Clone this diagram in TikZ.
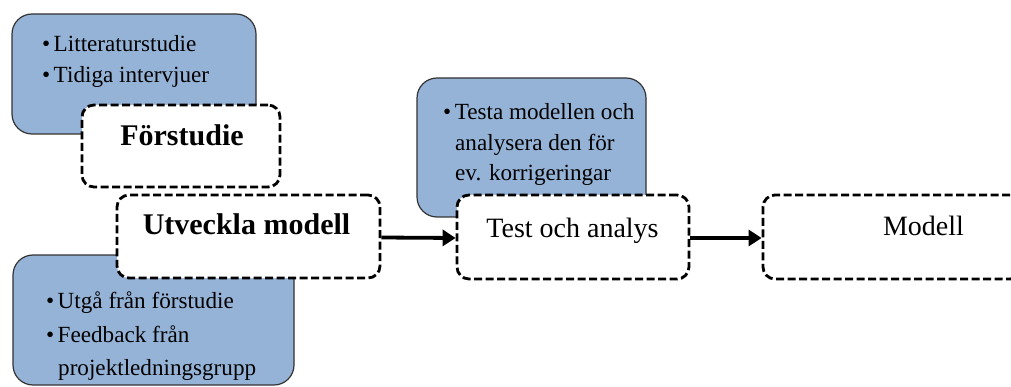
\documentclass[tikz,border=0pt]{standalone}
\usepackage{fontspec}
\usepackage{graphicx}
\setmainfont{Liberation Serif}
\newfontfamily\notefont{Liberation Serif}
\usetikzlibrary{arrows.meta}
\definecolor{notefill}{RGB}{149,179,215}
\newcommand\blt{\makebox[13pt][l]{\textbullet}}
\newcommand\nt[1]{\scalebox{0.89}{#1}}
\begin{document}
\begin{tikzpicture}[x=1pt,y=-1pt,
 note/.style={draw=black!80, line width=1.2pt, fill=notefill, rounded corners=20pt, inner sep=0pt},
 stage/.style={draw=black, line width=2.8pt, dash pattern=on 8pt off 3.5pt, fill=white, rounded corners=12pt, inner sep=0pt},
 btxt/.style={font=\notefont\fontsize{26}{30}\selectfont, anchor=base west, inner sep=0pt},
 ttl/.style={font=\notefont\fontsize{30}{34}\selectfont\bfseries, anchor=base, inner sep=0pt},
 ttr/.style={font=\notefont\fontsize{28}{32}\selectfont, anchor=base, inner sep=0pt},
 flow/.style={line width=3.8pt, -{Triangle[length=13pt,width=16pt]}}]
\useasboundingbox (0,0) rectangle (1011,387);
\clip (0,0) rectangle (1011,387);
% notes
\node[note, minimum width=244pt, minimum height=120pt] (noteA) at (134,74) {};
\node[note, minimum width=281pt, minimum height=130pt] (noteB) at (153.5,320) {};
\node[note, minimum width=229pt, minimum height=139pt] (noteC) at (531.5,147.5) {};
% note texts
\node[btxt] (a1) at (42,52) {\nt{\blt Litteraturstudie}};
\node[btxt] (a2) at (42,83) {\nt{\blt Tidiga intervjuer}};
\node[btxt] (b1) at (46,308) {\nt{\blt Utgå från förstudie}};
\node[btxt] (b2) at (46,342) {\nt{\blt Feedback från}};
\node[btxt] (b3) at (58,375) {\nt{projektledningsgrupp}};
\node[btxt] (c1) at (443,120) {\nt{\blt Testa modellen och}};
\node[btxt] (c2) at (455,151) {\nt{analysera den för}};
\node[btxt] (c3) at (455,181) {\nt{ev. korrigeringar}};
% stages
\node[stage, minimum width=198pt, minimum height=82pt] (pre) at (181,146) {};
\node[stage, minimum width=263pt, minimum height=83pt] (dev) at (248.5,236.5) {};
\node[stage, minimum width=232pt, minimum height=84pt] (test) at (573,237) {};
\node[stage, minimum width=259pt, minimum height=84pt] (model) at (892.5,237) {};
\node[ttl] (preT) at (182,146) {Förstudie};
\node[ttl] (devT) at (246.5,235) {Utveckla modell};
\node[ttr] (testT) at (572.5,237) {Test och analys};
\node[ttr] (modelT) at (923.5,236) {Modell};
% arrows
\draw[flow] ([yshift=-1pt]dev.east) -- ([yshift=-1pt]test.west);
\draw[flow] ([yshift=-1pt]test.east) -- ([yshift=-1pt]model.west);
\end{tikzpicture}
\end{document}
